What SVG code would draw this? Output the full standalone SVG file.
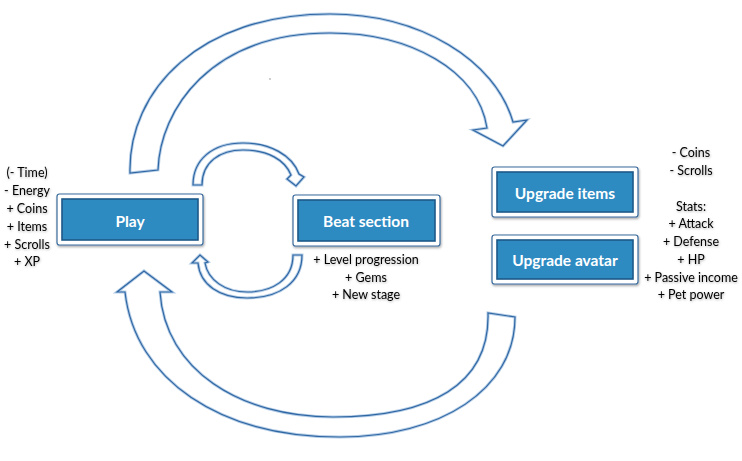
<svg xmlns="http://www.w3.org/2000/svg" xmlns:xlink="http://www.w3.org/1999/xlink" width="742" height="461" viewBox="0 0 742 461">
<style>
  .halo{fill:#ffffff;stroke:#b5cde6;stroke-width:3;stroke-linejoin:miter}
  .line{fill:none;stroke:#2f67a4;stroke-width:1.2;stroke-linejoin:miter}
  .frame{fill:#ffffff;stroke:#3a6a9c;stroke-width:1.2}
  .inner{fill:#2e8bc2;stroke:#1d5888;stroke-width:1.6}
  .label{font-family:Lato,"Open Sans","Liberation Sans",sans-serif;font-weight:bold;font-size:15.5px;fill:#ffffff;text-anchor:middle}
  .note{font-family:Lato,"Open Sans","Liberation Sans",sans-serif;font-size:12.5px;fill:#000000;text-anchor:middle}
</style>
<defs>
  <filter id="sh" x="-10%" y="-10%" width="130%" height="140%">
    <feDropShadow dx="0.8" dy="1.5" stdDeviation="1.2" flood-color="#000" flood-opacity="0.35"/>
  </filter>
  <filter id="tsh" x="-10%" y="-20%" width="120%" height="160%">
    <feDropShadow dx="0.5" dy="1" stdDeviation="0.8" flood-color="#000" flood-opacity="0.3"/>
  </filter>
  <path id="a1" d="M130,173 C128,90 200,14 330,14 C420,14 495,60 513,122 L527,120 L503,146 L473,130 L487,128 C478,70 410,33 330,33 C210,33 160,110 158,170 Z"/>
  <path id="a2" d="M515,317 C515,390 440,437 340,437 C220,437 135,380 125,292 L117,292 L144,271 L172,292 L160,292 C165,370 240,417 333,417 C430,417 490,385 488,313 Z"/>
  <path id="a3" d="M193,185 C193,160 212,143 243,143 C270,143 292,155 299,174 L304,177 L296,186 L287,179 L291,175 C285,160 268,150 243,150 C220,150 202,162 202,185 Z"/>
  <path id="a4" d="M302,255 C302,282 280,298 247,298 C220,298 200,285 198,263 L192,263 L200,255 L208,262 L205,263 C208,280 225,292 247,292 C272,292 293,280 293,255 Z"/>
</defs>
<rect width="742" height="461" fill="#ffffff"/>
<g id="connectors">
  <use xlink:href="#a1" class="halo"/><use xlink:href="#a1" class="line"/>
  <use xlink:href="#a2" class="halo"/><use xlink:href="#a2" class="line"/>
  <use xlink:href="#a3" class="halo"/><use xlink:href="#a3" class="line"/>
  <use xlink:href="#a4" class="halo"/><use xlink:href="#a4" class="line"/>
</g>
<circle cx="270" cy="79" r="0.7" fill="#777777"/>
<g id="play">
  <rect x="57" y="194" width="146" height="51" rx="2.5" class="frame" filter="url(#sh)"/>
  <rect x="62" y="199" width="136" height="41" class="inner"/>
  <text x="130" y="227" class="label">Play</text>
</g>
<g id="beat-section">
  <rect x="293" y="195" width="147" height="51" rx="2.5" class="frame" filter="url(#sh)"/>
  <rect x="298" y="200" width="137" height="41" class="inner"/>
  <text x="366" y="227" class="label">Beat section</text>
</g>
<g id="upgrade-items">
  <rect x="492" y="167" width="146" height="50" rx="2.5" class="frame" filter="url(#sh)"/>
  <rect x="497" y="172" width="136" height="40" class="inner"/>
  <text x="565" y="199" class="label">Upgrade items</text>
</g>
<g id="upgrade-avatar">
  <rect x="492" y="235" width="146" height="49" rx="2.5" class="frame" filter="url(#sh)"/>
  <rect x="497" y="240" width="136" height="39" class="inner"/>
  <text x="565" y="266" class="label">Upgrade avatar</text>
</g>
<g id="play-notes" class="note" filter="url(#tsh)">
  <text x="27" y="177" class="note">(- Time)</text>
  <text x="27" y="195" class="note">- Energy</text>
  <text x="27" y="213" class="note">+ Coins</text>
  <text x="27" y="231" class="note">+ Items</text>
  <text x="27" y="249" class="note">+ Scrolls</text>
  <text x="27" y="266" class="note">+ XP</text>
</g>
<g id="beat-notes" filter="url(#tsh)">
  <text x="366" y="264" class="note">+ Level progression</text>
  <text x="366" y="282" class="note">+ Gems</text>
  <text x="366" y="299" class="note">+ New stage</text>
</g>
<g id="upgrade-notes" filter="url(#tsh)">
  <text x="691" y="157" class="note">- Coins</text>
  <text x="691" y="175" class="note">- Scrolls</text>
  <text x="691" y="211" class="note">Stats:</text>
  <text x="691" y="228" class="note">+ Attack</text>
  <text x="691" y="246" class="note">+ Defense</text>
  <text x="691" y="264" class="note">+ HP</text>
  <text x="691" y="282" class="note">+ Passive income</text>
  <text x="691" y="299" class="note">+ Pet power</text>
</g>
</svg>
